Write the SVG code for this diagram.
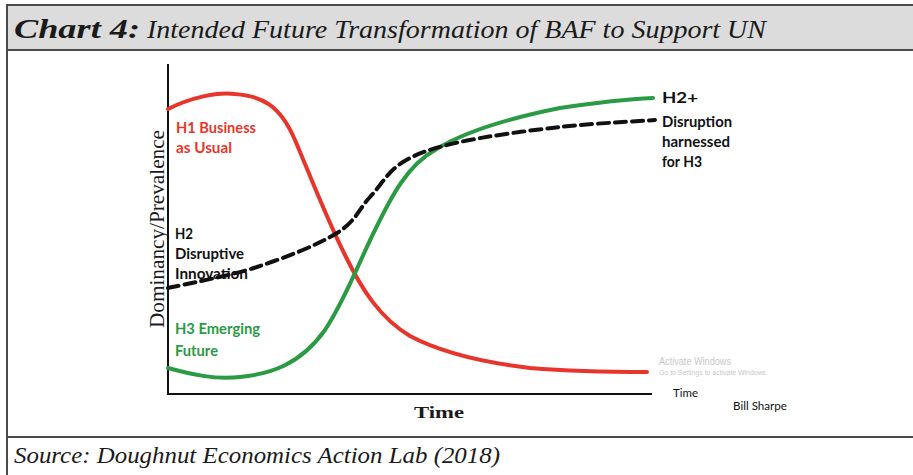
<svg xmlns="http://www.w3.org/2000/svg" width="913" height="475" viewBox="0 0 913 475">
  <style>
    .serif { font-family: "Liberation Serif", serif; }
    .lbl { font-family: Lato, "Liberation Sans", sans-serif; font-weight: bold; font-size: 15px; }
    .red { fill: #e8352b; }
    .green { fill: #2b9a44; }
    .blk { fill: #111111; }
    .curve { fill: none; stroke-width: 4; stroke-linecap: round; }
    .frame { stroke: #4a4a4a; stroke-width: 2; fill: none; }
  </style>
  <rect x="0" y="0" width="913" height="475" fill="#ffffff"/>
  <g id="frame">
    <rect x="7" y="5" width="906" height="45" fill="#dcdcdc"/>
    <line class="frame" x1="6" y1="5" x2="913" y2="5"/>
    <line class="frame" x1="6" y1="50" x2="913" y2="50"/>
    <line class="frame" x1="7" y1="4" x2="7" y2="475"/>
    <line class="frame" x1="6" y1="437" x2="913" y2="437"/>
  </g>
  <g id="title">
    <text class="serif" x="14" y="38" font-size="27" fill="#1a1a1a"><tspan font-weight="bold" font-style="italic" textLength="126" lengthAdjust="spacingAndGlyphs">Chart 4:</tspan></text>
    <text class="serif" x="147" y="38" font-size="26" font-style="italic" fill="#1a1a1a" textLength="619" lengthAdjust="spacingAndGlyphs">Intended Future Transformation of  BAF to Support UN</text>
  </g>
  <g id="source">
    <text class="serif" x="14" y="463" font-size="24" font-style="italic" fill="#1a1a1a" textLength="486" lengthAdjust="spacingAndGlyphs">Source: Doughnut Economics Action Lab (2018)</text>
  </g>
  <g id="axes">
    <line x1="168" y1="64" x2="168" y2="395" stroke="#111" stroke-width="2"/>
    <line x1="167" y1="394" x2="652" y2="394" stroke="#111" stroke-width="2"/>
    <text class="serif" x="0" y="0" font-size="20" fill="#1a1a1a" transform="translate(164,229) rotate(-90)" text-anchor="middle" textLength="198" lengthAdjust="spacingAndGlyphs">Dominancy/Prevalence</text>
    <text class="serif" x="414" y="418" font-size="17" font-weight="bold" fill="#1a1a1a" textLength="50" lengthAdjust="spacingAndGlyphs">Time</text>
  </g>
  <g id="connectors">
    <path id="h1-curve" class="curve" stroke="#e8352b" d="M168,109 C190,98 215,92 235,94 C262,96 280,105 295,140 C310,175 325,215 345,255 C362,290 380,318 410,336 C440,352 480,362 530,368 C580,372 620,372 647,372"/>
    <path id="h3-curve" class="curve" stroke="#2b9a44" d="M168,368 C190,374 215,380 240,377 C270,374 300,365 325,330 C345,300 360,260 375,230 C392,195 408,165 435,150 C470,128 520,116 560,108 C600,102 630,99 653,98"/>
    <path id="h2-curve" class="curve" stroke="#111111" stroke-width="3.5" stroke-linecap="butt" stroke-dasharray="11 6" d="M168,288 C182.8,284.5 228.8,276.2 257,267 C285.2,257.8 318.2,244.7 337,233 C355.8,221.3 359,208.8 370,197 C381,185.2 388,171.2 403,162 C418,152.8 433.8,147.8 460,142 C486.2,136.2 527.5,130.7 560,127 C592.5,123.3 639.2,121.2 655,120"/>
  </g>
  <g id="h1">
    <text class="lbl red" x="176" y="133" textLength="80" lengthAdjust="spacingAndGlyphs">H1 Business</text>
    <text class="lbl red" x="176" y="153" textLength="56" lengthAdjust="spacingAndGlyphs">as Usual</text>
  </g>
  <g id="h2">
    <text class="lbl blk" x="175" y="239" textLength="18" lengthAdjust="spacingAndGlyphs">H2</text>
    <text class="lbl blk" x="175" y="259" textLength="69" lengthAdjust="spacingAndGlyphs">Disruptive</text>
    <text class="lbl blk" x="175" y="279" textLength="73" lengthAdjust="spacingAndGlyphs">Innovation</text>
  </g>
  <g id="h3">
    <text class="lbl green" x="175" y="334" textLength="85" lengthAdjust="spacingAndGlyphs">H3 Emerging</text>
    <text class="lbl green" x="175" y="356" textLength="43" lengthAdjust="spacingAndGlyphs">Future</text>
  </g>
  <g id="h2plus">
    <text class="lbl blk" x="662" y="103" font-size="19" textLength="36" lengthAdjust="spacingAndGlyphs">H2+</text>
    <text class="lbl blk" x="662" y="127" textLength="70" lengthAdjust="spacingAndGlyphs">Disruption</text>
    <text class="lbl blk" x="662" y="147" textLength="68" lengthAdjust="spacingAndGlyphs">harnessed</text>
    <text class="lbl blk" x="662" y="167" textLength="40" lengthAdjust="spacingAndGlyphs">for H3</text>
  </g>
  <g id="credits">
    <text x="673" y="397" font-family="Lato, 'Liberation Sans', sans-serif" font-size="12" fill="#111" textLength="25" lengthAdjust="spacingAndGlyphs">Time</text>
    <text x="733" y="410" font-family="Lato, 'Liberation Sans', sans-serif" font-size="12" fill="#111" textLength="54" lengthAdjust="spacingAndGlyphs">Bill Sharpe</text>
  </g>
  <g id="watermark" fill="#c8c8c8" font-family="'Liberation Sans', sans-serif">
    <text x="659" y="365" font-size="10" textLength="72" lengthAdjust="spacingAndGlyphs">Activate Windows</text>
    <text x="659" y="375" font-size="6.5" textLength="109" lengthAdjust="spacingAndGlyphs">Go to Settings to activate Windows.</text>
  </g>
</svg>
